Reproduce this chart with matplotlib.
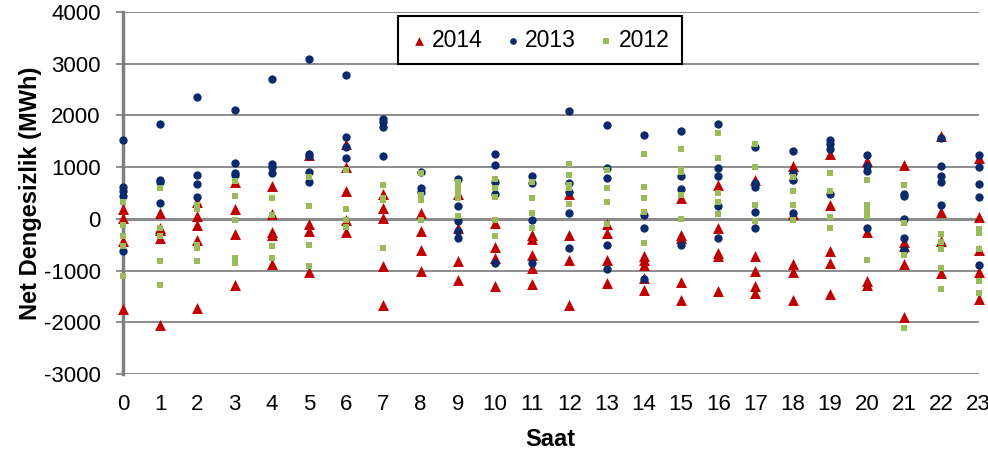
import matplotlib.pyplot as plt

# ---------------------- Data (MWh) ----------------------

hours = list(range(24))

# one list of values per hour, 0..23
net_2014 = [
    [200, 20, -430, -1740],
    [110, -180, -210, -370, -2060],
    [330, 60, -115, -400, -1720],
    [720, 190, -290, -1270],
    [640, 100, -260, -310, -870],
    [1230, -100, -240, -1030],
    [1440, 1010, 530, -20, -260],
    [490, 220, 10, -920, -1670],
    [120, -230, -600, -1010],
    [490, -180, -820, -1190],
    [-80, -540, -760, -1300],
    [-310, -390, -700, -950, -1260],
    [490, -310, -790, -1670],
    [-100, -280, -790, -1240],
    [-710, -790, -900, -1140, -1370],
    [410, -310, -370, -1220, -1570],
    [650, -180, -660, -720, -1400],
    [750, -720, -1010, -1300, -1440],
    [1030, 90, -880, -1030, -1560],
    [1260, 270, -630, -850, -1450],
    [1120, -260, -1210, -1280],
    [1050, -450, -530, -880, -1900],
    [1600, 140, -420, -1040],
    [1180, 45, -610, -1030, -1550],
]

net_2013 = [
    [1520, 620, 530, 450, -630],
    [1830, 750, 720, 300],
    [2350, 850, 670, 430],
    [2100, 1090, 890, 850],
    [2700, 1070, 1000, 880],
    [3090, 1260, 1210, 910, 705],
    [2780, 1580, 1390, 1170],
    [1940, 1870, 1780, 1220],
    [910, 590, 525],
    [780, 250, -50, -240, -370],
    [1260, 1050, 720, 490, -850],
    [830, 690, -20, -850],
    [2080, 690, 525, 110, -560],
    [1810, 990, 790, -510, -960],
    [1620, 80, -170, -1170],
    [1700, 830, 580, -510],
    [1830, 990, 830, 250, -370],
    [1390, 700, 620, 140, -170],
    [1310, 880, 750, 110],
    [1520, 1440, 1360, 490],
    [1230, 1030, 920, -170],
    [490, 450, 0, -370, -600],
    [1560, 1020, 830, 720, 270],
    [1240, 1010, 670, 430, -900],
]

net_2012 = [
    [330, -115, -330, -530, -1110],
    [590, -180, -330, -820, -1270],
    [270, 200, -500, -560, -820],
    [740, 440, -30, -760, -850],
    [410, 80, -530, -760],
    [810, 250, -500, -920],
    [940, 200, -20, -150],
    [650, 400, 370, -560],
    [880, 460, 400, 370, -20],
    [720, 590, 525, 400, 60],
    [780, 590, 430, -30, -330],
    [720, 400, 110, -180],
    [1060, 850, 650, 590, 290],
    [940, 600, 330, -100],
    [1250, 620, 400, 130, -460],
    [1350, 940, 910, 460, 0],
    [1670, 1180, 510, 330, 90],
    [1440, 1010, 270, -50],
    [810, 540, 270, -20],
    [880, 540, 45, -170],
    [750, 270, 170, 60, -800],
    [650, -80, -690, -2100],
    [-300, -440, -580, -950, -1350],
    [-200, -280, -580, -1210, -1430],
]

y_ticks = [-3000, -2000, -1000, 0, 1000, 2000, 3000, 4000]


def flatten(series):
    xs, ys = [], []
    for h, vals in zip(hours, series):
        xs += [h] * len(vals)
        ys += vals
    return xs, ys


# ---------------------- Plot ----------------------

plt.rcParams['font.family'] = ['Liberation Sans', 'DejaVu Sans']
plt.rcParams['axes.unicode_minus'] = False

fig = plt.figure(figsize=(9.88, 4.54), dpi=100)
ax = fig.add_axes([0.1245, 0.176, 0.866, 0.7976])

grid_col = '#8C8C8C'
for v in y_ticks:
    ax.axhline(v, color=grid_col, lw=1.4, zorder=1)
ax.axhline(0, color=grid_col, lw=2.2, zorder=1)

x, y = flatten(net_2014)
ax.scatter(x, y, marker='^', s=62, color='#C00000', lw=0, zorder=3,
           clip_on=False, label='2014')
x, y = flatten(net_2013)
ax.scatter(x, y, marker='o', s=36, color='#0A2A6B', lw=0, zorder=4,
           clip_on=False, label='2013')
x, y = flatten(net_2012)
ax.scatter(x, y, marker='s', s=24, color='#9BBB59', lw=0, zorder=5,
           clip_on=False, label='2012')

ax.set_xlim(0, 23)
ax.set_ylim(-3000, 4000)
ax.set_yticks(y_ticks)
ax.set_xticks(hours)
ax.set_xticklabels([str(h) for h in hours])

for s in ['top', 'right', 'bottom']:
    ax.spines[s].set_visible(False)
ax.spines['left'].set_color('#808080')
ax.spines['left'].set_linewidth(2.5)

ax.tick_params(axis='y', direction='out', length=5, width=1.4,
               color=grid_col, labelsize=16, pad=11)
ax.tick_params(axis='x', length=0, labelsize=16, pad=14)

ax.set_ylabel('Net Dengesizlik (MWh)', fontsize=17, fontweight='bold')
ax.yaxis.set_label_coords(-0.095, 0.5)
ax.set_xlabel('Saat', fontsize=17, fontweight='bold')
ax.xaxis.set_label_coords(0.5, -0.15)

leg = ax.legend(loc='upper center', bbox_to_anchor=(0.487, 0.989), ncol=3,
                fontsize=16.5, frameon=True, fancybox=False,
                handlelength=0.8, handletextpad=0.15, columnspacing=0.9,
                borderpad=0.55, borderaxespad=0, markerscale=0.8)
leg.get_frame().set_edgecolor('black')
leg.get_frame().set_linewidth(1.5)
leg.get_frame().set_alpha(1)

fig.savefig('out.png', dpi=100)
